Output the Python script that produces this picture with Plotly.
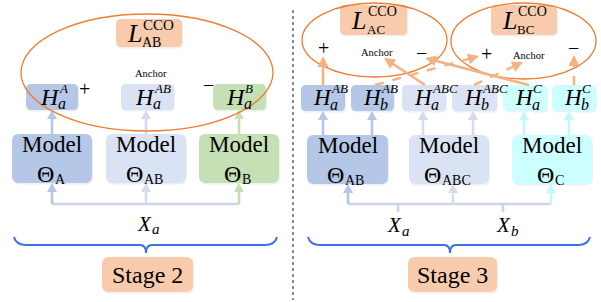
import plotly.graph_objects as go

W, H = 601, 302
FONT = "Liberation Serif"

# ---- colours ----
BLUE = "#B4C7E7"
LIGHT = "#DAE3F3"
GREEN = "#C5E0B4"
CYAN = "#CCFFFF"
PEACH = "#F8CBAD"
ORANGE = "#ED7D31"
ORANGE_ARROW = "#F4B183"
BRACE = "#3D6FEA"
ARROW_BLUE = "#B4C7E7"
ARROW_LIGHT = "#D3DCF0"
ARROW_GREEN = "#C5E0B4"
ARROW_CYAN = "#C2F8FA"
LINK = "#C9D4EC"

# ---- Stage 2 layout/data ----
s2_ellipse = [21, 14, 273, 131]
s2_loss_box = [116, 19, 182, 47]
s2_loss_sub = "AB"
s2_h_boxes = [[26, 84, 78, 110], [121, 84, 174, 110], [213, 84, 266, 110]]
s2_h_fill = [BLUE, LIGHT, GREEN]
s2_h_sup = ["A", "AB", "B"]
s2_h_sub = ["a", "a", "a"]
s2_h_x = [50, 145, 236]
s2_model_boxes = [[12, 134, 92, 183], [106, 134, 186, 183], [199, 134, 279, 183]]
s2_model_fill = [BLUE, LIGHT, GREEN]
s2_model_sub = ["A", "AB", "B"]
s2_arrow_x = [52, 146, 239]
s2_arrow_col = [ARROW_BLUE, ARROW_LIGHT, ARROW_GREEN]
s2_signs = [("+", 84, 89), ("\u2212", 208, 85)]
s2_anchor = (151, 73)
s2_input = [("X", "a", 146)]
s2_brace = (14, 277, 146)
s2_stage_box = [102, 257, 193, 292]
s2_stage_label = "Stage 2"

# ---- Stage 3 layout/data ----
s3_ellipses = [[302, 3, 447, 77], [451, 3, 596, 79]]
s3_loss_boxes = [[340, 5, 407, 35], [491, 5, 557, 35]]
s3_loss_sub = ["AC", "BC"]
s3_h_boxes = [[301, 85, 345, 111], [351, 85, 394, 111], [402, 85, 446, 111],
              [452, 85, 497, 111], [503, 85, 547, 111], [552, 85, 596, 111]]
s3_h_fill = [BLUE, BLUE, LIGHT, LIGHT, CYAN, CYAN]
s3_h_sup = ["AB", "AB", "ABC", "ABC", "C", "C"]
s3_h_sub = ["a", "b", "a", "b", "a", "b"]
s3_model_boxes = [[307, 135, 388, 184], [409, 135, 489, 184], [512, 135, 592, 184]]
s3_model_fill = [BLUE, LIGHT, CYAN]
s3_model_sub = ["AB", "ABC", "C"]
s3_up_x = [323, 372, 423, 473, 524, 569]
s3_up_col = [ARROW_BLUE, ARROW_BLUE, ARROW_LIGHT, ARROW_LIGHT, ARROW_CYAN, ARROW_CYAN]
s3_in_x = [348, 453, 551]
s3_in_col = [ARROW_BLUE, ARROW_LIGHT, ARROW_CYAN]
s3_stub_x = [398, 503]
s3_signs = [("+", 323, 48), ("\u2212", 421, 53), ("+", 486, 54), ("\u2212", 573, 48)]
s3_anchors = [(377, 52), (529, 55)]
# (tail, tip, dash)
s3_links = [((323, 85), (323, 56), "solid"),
            ((425, 85), (384, 58), "solid"),
            ((529, 85), (425, 58), "solid"),
            ((375, 85), (479, 56), "dash"),
            ((474, 85), (523, 62), "dash"),
            ((574, 85), (574, 55), "dash")]
s3_inputs = [("X", "a", 394, 225), ("X", "b", 503, 225)]
s3_brace = (308, 590, 450)
s3_stage_box = [408, 257, 497, 292]
s3_stage_label = "Stage 3"

shapes = []
annotations = []


def rrect(x0, y0, x1, y1, r=5):
    return (f"M{x0+r},{y0} L{x1-r},{y0} Q{x1},{y0} {x1},{y0+r} L{x1},{y1-r} "
            f"Q{x1},{y1} {x1-r},{y1} L{x0+r},{y1} Q{x0},{y1} {x0},{y1-r} "
            f"L{x0},{y0+r} Q{x0},{y0} {x0+r},{y0} Z")


def box(b, fill, r=5):
    x0, y0, x1, y1 = b
    shapes.append(dict(type="path", path=rrect(x0 + 1, y0 + 1.5, x1 + 1, y1 + 1.5, r),
                       fillcolor="rgba(0,0,0,0.06)", line=dict(width=0)))
    shapes.append(dict(type="path", path=rrect(x0, y0, x1, y1, r), fillcolor=fill,
                       line=dict(width=0)))


def arrow(tail, tip, color, width=2.6, dash="solid", hl=9, hw=10):
    dx, dy = tip[0] - tail[0], tip[1] - tail[1]
    d = (dx * dx + dy * dy) ** 0.5
    ux, uy = dx / d, dy / d
    bx, by = tip[0] - ux * hl, tip[1] - uy * hl
    px, py = -uy, ux
    shapes.append(dict(type="line", x0=tail[0], y0=tail[1], x1=bx + ux, y1=by + uy,
                       line=dict(color=color, width=width, dash=dash)))
    shapes.append(dict(type="path",
                       path=f"M{tip[0]},{tip[1]} L{bx+px*hw/2},{by+py*hw/2} L{bx-px*hw/2},{by-py*hw/2} Z",
                       fillcolor=color, line=dict(width=0)))


def line(x0, y0, x1, y1, color, width=2.6):
    shapes.append(dict(type="line", x0=x0, y0=y0, x1=x1, y1=y1,
                       line=dict(color=color, width=width)))


def txt(x, y, s, size, italic=False, xanchor="center"):
    if italic:
        s = f"<i>{s}</i>"
    annotations.append(dict(x=x, y=y, text=s, showarrow=False, xanchor=xanchor,
                            yanchor="middle", font=dict(family=FONT, size=size, color="black"),
                            borderpad=0))


def h_label(xc, yc, sup, sub, size=24):
    txt(xc, yc, "H", size, italic=True)
    txt(xc + 8, yc - 8.5, sup, 13, italic=True, xanchor="left")
    txt(xc + 7, yc + 7, sub, 16, italic=True, xanchor="left")


def loss_label(b, sub, size=26, supsize=15):
    x0, y0, x1, y1 = b
    cx = (x0 + x1) / 2 - 15
    cy = (y0 + y1) / 2
    txt(cx, cy + 0.5, "L", size, italic=True)
    txt(cx + 8, cy - 8.5, "CCO", supsize, xanchor="left")
    txt(cx + 7, cy + 9, sub, supsize - 1, xanchor="left")


def model_label(b, sub):
    x0, y0, x1, y1 = b
    cx = (x0 + x1) / 2
    txt(cx, y0 + 10.5, "Model", 23)
    wsub = 0.7 * 14 * len(sub)
    tx = cx - wsub / 2 - 2
    txt(tx, y1 - 9, "\u0398", 24)
    txt(tx + 8.5, y1 - 4, sub, 14, xanchor="left")


def brace(x0, x1, xm, ye=237, yh=245, yt=253):
    p = (f"M{x0},{ye} Q{x0+2},{yh} {x0+12},{yh} L{xm-6},{yh} Q{xm},{yh} {xm},{yt} "
         f"Q{xm},{yh} {xm+6},{yh} L{x1-12},{yh} Q{x1-2},{yh} {x1},{ye}")
    shapes.append(dict(type="path", path=p, line=dict(color=BRACE, width=2)))


def stage(b, label):
    box(b, PEACH, r=7)
    txt((b[0] + b[2]) / 2, (b[1] + b[3]) / 2, label, 24)


# ================= Stage 2 =================
box(s2_loss_box, PEACH)
for b, f in zip(s2_h_boxes, s2_h_fill):
    box(b, f)
for b, f in zip(s2_model_boxes, s2_model_fill):
    box(b, f, r=7)
for x, c in zip(s2_arrow_x, s2_arrow_col):
    arrow((x, s2_model_boxes[0][1]), (x, s2_h_boxes[0][3]), c)
line(s2_arrow_x[0], 204, s2_arrow_x[-1], 204, LINK)
for x, c in zip(s2_arrow_x, s2_arrow_col):
    arrow((x, 204), (x, s2_model_boxes[0][3]), c)
shapes.append(dict(type="circle", x0=s2_ellipse[0], y0=s2_ellipse[1], x1=s2_ellipse[2],
                   y1=s2_ellipse[3], line=dict(color=ORANGE, width=1.3)))
brace(*s2_brace)
stage(s2_stage_box, s2_stage_label)

loss_label(s2_loss_box, s2_loss_sub)
for xc, sup, sub in zip(s2_h_x, s2_h_sup, s2_h_sub):
    h_label(xc, 96.5, sup, sub)
for b, sub in zip(s2_model_boxes, s2_model_sub):
    model_label(b, sub)
for s, x, y in s2_signs:
    txt(x, y, s, 20)
txt(s2_anchor[0], s2_anchor[1], "Anchor", 10.5)
for X, sub, x in s2_input:
    txt(x - 2, 223.5, X, 21, italic=True)
    txt(x + 5, 229, sub, 15, italic=True, xanchor="left")

# ================= Stage 3 =================
for b in s3_loss_boxes:
    box(b, PEACH)
for b, f in zip(s3_h_boxes, s3_h_fill):
    box(b, f)
for b, f in zip(s3_model_boxes, s3_model_fill):
    box(b, f, r=7)
for x, c in zip(s3_up_x, s3_up_col):
    arrow((x, s3_model_boxes[0][1]), (x, s3_h_boxes[0][3]), c)
line(s3_in_x[0], 204, s3_in_x[-1], 204, LINK)
for x in s3_stub_x:
    line(x, 204, x, 212, LINK)
for x, c in zip(s3_in_x, s3_in_col):
    arrow((x, 204), (x, s3_model_boxes[0][3]), c)
for e in s3_ellipses:
    shapes.append(dict(type="circle", x0=e[0], y0=e[1], x1=e[2], y1=e[3],
                       line=dict(color=ORANGE, width=1.3)))
for tail, tip, dash in s3_links:
    arrow(tail, tip, ORANGE_ARROW, width=2.6 if dash == "solid" else 2.4,
          dash=dash, hl=11, hw=11)
brace(*s3_brace)
stage(s3_stage_box, s3_stage_label)

for b, sub in zip(s3_loss_boxes, s3_loss_sub):
    loss_label(b, sub, size=26, supsize=14)
for b, sup, sub in zip(s3_h_boxes, s3_h_sup, s3_h_sub):
    h_label(b[0] + 21, 97, sup, sub, size=23)
for b, sub in zip(s3_model_boxes, s3_model_sub):
    model_label(b, sub)
for s, x, y in s3_signs:
    txt(x, y, s, 20)
for x, y in s3_anchors:
    txt(x, y, "Anchor", 10.5)
for X, sub, x, y in s3_inputs:
    txt(x, y, X, 21, italic=True)
    txt(x + 7, y + 6, sub, 15, italic=True, xanchor="left")

# separator
shapes.append(dict(type="line", x0=293, y0=10, x1=293, y1=300,
                   line=dict(color="#8C8C8C", width=2, dash="dot")))

fig = go.Figure()
fig.update_layout(
    width=W, height=H, autosize=False,
    margin=dict(l=0, r=0, t=0, b=0),
    paper_bgcolor="white", plot_bgcolor="white",
    xaxis=dict(range=[0, W], visible=False, fixedrange=True),
    yaxis=dict(range=[H, 0], visible=False, fixedrange=True),
    shapes=shapes, annotations=annotations, showlegend=False,
)
fig.write_html("out.html", config={"displayModeBar": False},
               post_script="document.body.style.margin='0';document.body.style.overflow='hidden';")
